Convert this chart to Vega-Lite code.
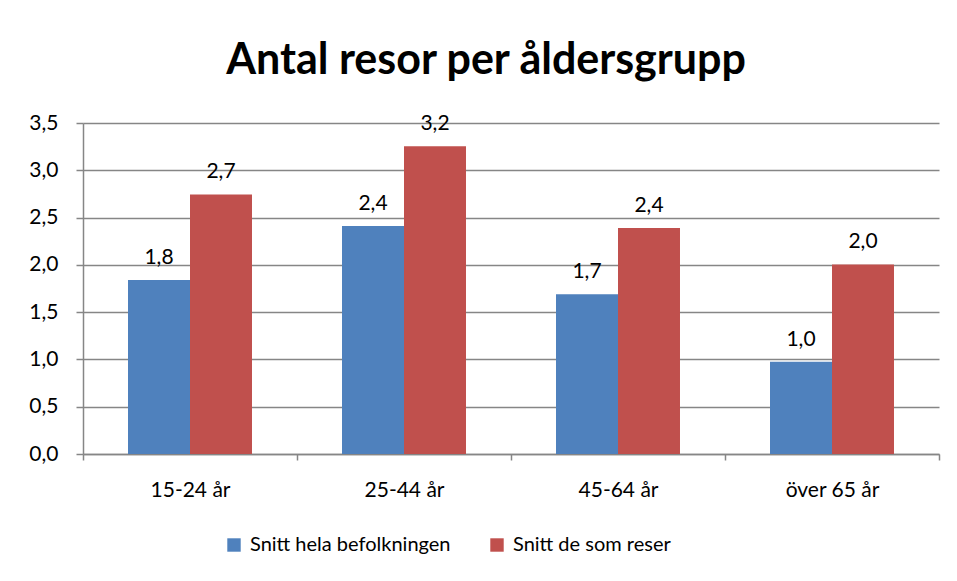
{
  "$schema": "https://vega.github.io/schema/vega-lite/v6.json",
  "autosize": {"type": "none"},
  "width": 856,
  "height": 331,
  "padding": {"left": 83, "top": 123, "right": 18, "bottom": 127},
  "background": "white",
  "title": {
    "text": "Antal resor per åldersgrupp",
    "font": "Lato",
    "fontSize": 43,
    "fontWeight": "bold",
    "color": "#000000",
    "anchor": "middle",
    "dx": -25,
    "offset": 29
  },
  "data": {
    "values": [
      {"grupp": "15-24 år", "serie": "Snitt hela befolkningen", "antal": 1.84, "etikett": "1,8"},
      {"grupp": "15-24 år", "serie": "Snitt de som reser", "antal": 2.745, "etikett": "2,7"},
      {"grupp": "25-44 år", "serie": "Snitt hela befolkningen", "antal": 2.41, "etikett": "2,4"},
      {"grupp": "25-44 år", "serie": "Snitt de som reser", "antal": 3.255, "etikett": "3,2"},
      {"grupp": "45-64 år", "serie": "Snitt hela befolkningen", "antal": 1.69, "etikett": "1,7"},
      {"grupp": "45-64 år", "serie": "Snitt de som reser", "antal": 2.39, "etikett": "2,4"},
      {"grupp": "över 65 år", "serie": "Snitt hela befolkningen", "antal": 0.975, "etikett": "1,0"},
      {"grupp": "över 65 år", "serie": "Snitt de som reser", "antal": 2.005, "etikett": "2,0"}
    ]
  },
  "encoding": {
    "x": {
      "field": "grupp",
      "type": "nominal",
      "sort": ["15-24 år", "25-44 år", "45-64 år", "över 65 år"],
      "scale": {"paddingInner": 0, "paddingOuter": 0},
      "axis": {
        "title": null,
        "labelAngle": 0,
        "labelFont": "Lato",
        "labelFontSize": 21,
        "labelColor": "#000000",
        "labelPadding": 19,
        "tickBand": "extent",
        "tickSize": 6,
        "tickColor": "#868686",
        "domainColor": "#868686",
        "domainWidth": 1.5,
        "tickWidth": 1.5,
        "grid": false
      }
    },
    "xOffset": {
      "field": "serie",
      "type": "nominal",
      "sort": ["Snitt hela befolkningen", "Snitt de som reser"],
      "scale": {"paddingInner": 0, "paddingOuter": 0.726}
    },
    "y": {
      "field": "antal",
      "type": "quantitative",
      "scale": {"domain": [0, 3.5], "nice": false},
      "axis": {
        "title": null,
        "values": [0, 0.5, 1, 1.5, 2, 2.5, 3, 3.5],
        "labelExpr": "replace(format(datum.value, '.1f'), '.', ',')",
        "labelFont": "Lato",
        "labelFontSize": 21,
        "labelColor": "#000000",
        "labelPadding": 18,
        "tickSize": 7,
        "tickColor": "#868686",
        "tickWidth": 1.5,
        "domainColor": "#868686",
        "domainWidth": 1.5,
        "gridColor": "#868686",
        "gridWidth": 1.3
      }
    }
  },
  "layer": [
    {
      "mark": {"type": "bar"},
      "encoding": {
        "color": {
          "field": "serie",
          "type": "nominal",
          "sort": ["Snitt hela befolkningen", "Snitt de som reser"],
          "scale": {"domain": ["Snitt hela befolkningen", "Snitt de som reser"], "range": ["#4F81BD", "#C0504D"]},
          "legend": {
            "title": null,
            "orient": "none",
            "direction": "horizontal",
            "legendX": 141,
            "legendY": 412,
            "symbolType": "square",
            "symbolSize": 180,
            "symbolStrokeWidth": 0,
            "labelFont": "Lato",
            "labelFontSize": 20,
            "labelColor": "#000000",
            "labelOffset": 6,
            "labelLimit": 0,
            "columnPadding": 36
          }
        }
      }
    },
    {
      "mark": {"type": "text", "font": "Lato", "fontSize": 21, "color": "#000000", "baseline": "alphabetic", "dy": -16},
      "encoding": {
        "text": {"field": "etikett", "type": "nominal"}
      }
    }
  ],
  "config": {
    "view": {"stroke": null},
    "axis": {"labelOverlap": false}
  }
}
